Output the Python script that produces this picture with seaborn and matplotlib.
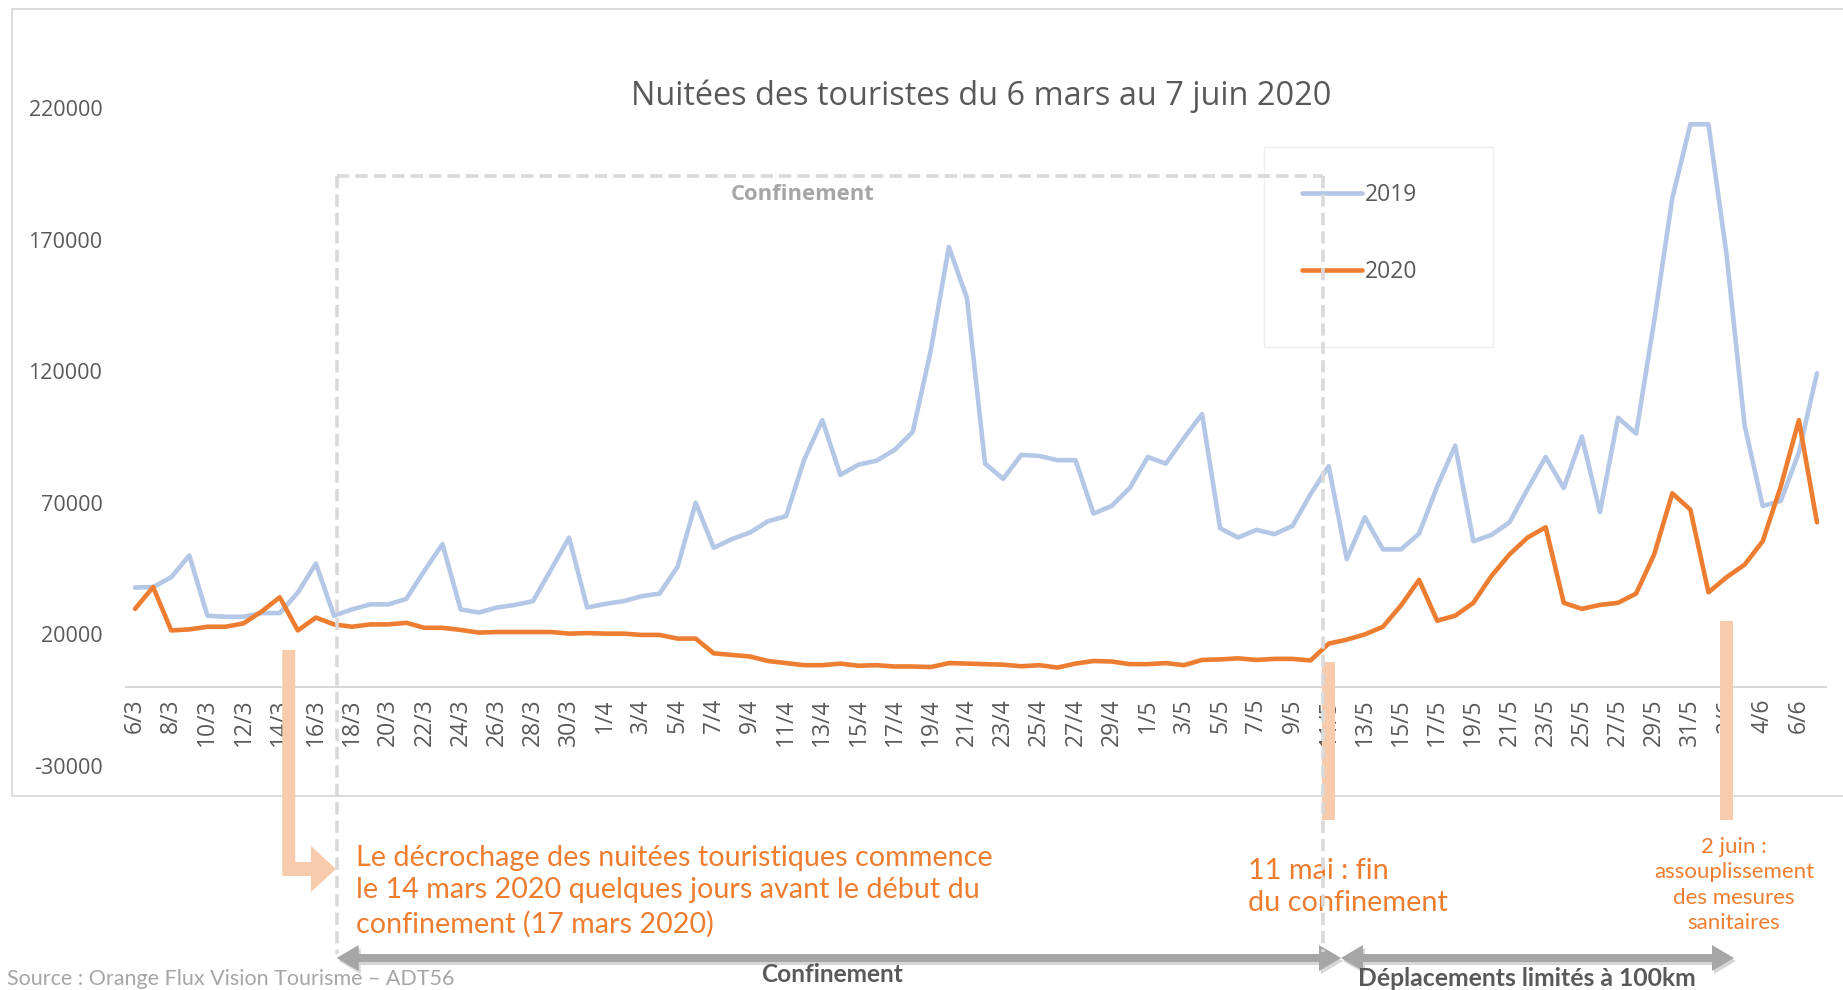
import numpy as np
import pandas as pd
import matplotlib
matplotlib.use("Agg")
import matplotlib.pyplot as plt
from matplotlib.patches import Rectangle, Polygon
from matplotlib.lines import Line2D
import seaborn as sns

# --- data -----------------------------------------------------------------
dates = pd.date_range("2020-03-06", "2020-06-07", freq="D")
day_labels = [f"{d.day}/{d.month}" for d in dates]

nuitees_2019 = [
    37800, 38000, 41700, 50000, 27100, 26700, 26700, 28100, 28100, 35900,
    46900, 27100, 29500, 31400, 31400, 33500, 44200, 54300, 29500, 28300,
    30200, 31200, 32600, 44600, 56800, 30200, 31600, 32600, 34500, 35500,
    45700, 70000, 52900, 56200, 58700, 63000, 64900, 86400, 101400, 80600,
    84500, 86000, 90100, 96900, 127900, 167200, 147700, 84900, 79100, 88200,
    87800, 86200, 86200, 65900, 68800, 75600, 87400, 84900, 94600, 103700,
    60300, 56800, 59700, 58100, 61200, 73300, 83900, 48600, 64500, 52300,
    52300, 58300, 76200, 91700, 55400, 57800, 62600, 75200, 87400, 75600,
    95200, 66500, 102300, 96300, 139100, 185700, 213800, 213800, 164300, 99400,
    68800, 70700, 89100, 119200,
]
nuitees_2020 = [
    29700, 38000, 21500, 21900, 22900, 22900, 24200, 28700, 34100, 21500,
    26400, 23800, 22900, 23800, 23800, 24400, 22500, 22500, 21700, 20700,
    20900, 20900, 20900, 20900, 20300, 20500, 20300, 20300, 19800, 19800,
    18400, 18400, 12800, 12200, 11600, 9900, 9100, 8300, 8300, 8900,
    8100, 8300, 7800, 7800, 7600, 9100, 8900, 8700, 8500, 7900,
    8300, 7400, 8900, 9900, 9700, 8700, 8700, 9100, 8300, 10300,
    10500, 10900, 10300, 10700, 10700, 10100, 16500, 18000, 20000, 22900,
    31000, 40700, 25200, 27100, 32000, 42200, 50400, 56800, 60700, 32000,
    29700, 31200, 32000, 35500, 50400, 73600, 67400, 36000, 41700, 46500,
    55400, 76200, 101400, 62600,
]
y_ticks = [-30000, 20000, 70000, 120000, 170000, 220000]

title = "Nuitées des touristes du 6 mars au 7 juin 2020"
colors = {"2019": "#B4C7E7", "2020": "#ED7D31"}
orange = "#ED7D31"
peach = "#F8CBAD"

df = pd.DataFrame({
    "jour": list(range(len(dates))) * 2,
    "nuitees": nuitees_2019 + nuitees_2020,
    "annee": ["2019"] * len(dates) + ["2020"] * len(dates),
})

# --- figure ---------------------------------------------------------------
sns.set_theme(style="white")
plt.rcParams["font.family"] = ["Open Sans", "DejaVu Sans"]

W, H = 1843, 990
fig = plt.figure(figsize=(W / 100, H / 100), dpi=100)
ax = fig.add_axes([126 / W, 1 - 766 / H, 1700 / W, 658 / H])

sns.lineplot(data=df, x="jour", y="nuitees", hue="annee", palette=colors,
             linewidth=3.3, legend=False, ax=ax)

# axis crossing at 0 (set before ticks: set_position resets them)
for s in ["top", "right", "left"]:
    ax.spines[s].set_visible(False)
ax.spines["bottom"].set_position(("data", 0))
ax.spines["bottom"].set_color("#D9D9D9")
ax.spines["bottom"].set_linewidth(1.5)

ax.set_xlim(-0.5, len(dates) - 0.5)
ax.set_ylim(y_ticks[0], y_ticks[-1])
ax.set_yticks(y_ticks)
ax.set_yticklabels([str(v) for v in y_ticks])
ax.set_xticks(range(0, len(dates), 2))
ax.set_xticklabels(day_labels[::2])
ax.set_xlabel("")
ax.set_ylabel("")
ax.tick_params(axis="x", length=0, pad=8, labelsize=16.5, labelcolor="#595959",
               labelrotation=90)
ax.tick_params(axis="y", length=0, pad=17, labelsize=15.5, labelcolor="#595959")

# legend
handles = [Line2D([], [], color=colors[k], lw=3.3) for k in colors]
ax.legend(handles, list(colors), loc="upper left",
          bbox_to_anchor=(1302 / W, 1 - 183 / H), bbox_transform=fig.transFigure,
          frameon=False, borderpad=0, borderaxespad=0, handlelength=2.6,
          handletextpad=0.15, labelspacing=2.3, fontsize=16.5, labelcolor="#595959")


def fx(x):
    return x / W


def fy(y):
    return 1 - y / H


def xpix(i):
    return ax.transData.transform((i, 0))[0]


def poly(points, color, z=3):
    p = Polygon([(fx(x), fy(y)) for x, y in points], closed=True,
                facecolor=color, edgecolor="none", transform=fig.transFigure, zorder=z)
    fig.add_artist(p)


def vline(x, y0, y1, **kw):
    fig.add_artist(Line2D([fx(x), fx(x)], [fy(y0), fy(y1)],
                          transform=fig.transFigure, **kw))


# chart frame
fig.add_artist(Rectangle((fx(12), fy(796)), fx(W + 20 - 12), (796 - 9) / H,
                         fill=False, edgecolor="#D9D9D9", lw=1.3,
                         transform=fig.transFigure, zorder=0.5))
# legend box
fig.add_artist(Rectangle((fx(1264), fy(347)), fx(1493 - 1264), (347 - 147) / H,
                         fill=False, edgecolor="#EFEFEF", lw=1,
                         transform=fig.transFigure, zorder=0.5))

fig.text(fx(981), fy(96), title, ha="center", va="center", fontsize=23.4,
         color="#595959")

# confinement dashed box
dash = dict(color="#D9D9D9", lw=2.6, linestyle=(0, (3.4, 1.7)), zorder=4)
xl, xr = xpix(11.15), xpix(65.7)
vline(xl, 176, 954, **dash)
vline(xr, 176, 952, **dash)
fig.add_artist(Line2D([fx(xl), fx(xr)], [fy(176), fy(176)],
                      transform=fig.transFigure, **dash))
fig.text(fx(803), fy(194), "Confinement", ha="center", va="center",
         fontsize=15.8, fontweight="bold", color="#A6A6A6")

# peach markers
xb = xpix(8.5)
poly([(xb - 6.5, 650), (xb + 6.5, 650), (xb + 6.5, 862), (311, 862), (311, 846),
      (336, 869), (311, 892), (311, 876), (xb - 6.5, 876)], peach)
for idx, top in [(66, 662), (88, 621)]:
    xc = xpix(idx)
    poly([(xc - 6.5, top), (xc + 6.5, top), (xc + 6.5, 820), (xc - 6.5, 820)], peach)

# annotations
ann = ["Lato", "DejaVu Sans"]
fig.text(fx(356), fy(891),
         "Le décrochage des nuitées touristiques commence\n"
         "le 14 mars 2020 quelques jours avant le début du\n"
         "confinement (17 mars 2020)",
         ha="left", va="center", fontsize=20.7, color=orange, family=ann,
         linespacing=1.32)
fig.text(fx(1248), fy(887), "11 mai : fin\ndu confinement", ha="left",
         va="center", fontsize=20.8, color=orange, family=ann, linespacing=1.32)
fig.text(fx(1734), fy(885), "2 juin :\nassouplissement\ndes mesures\nsanitaires",
         ha="center", va="center", fontsize=16, color=orange, family=ann,
         linespacing=1.35, multialignment="center")


def double_arrow(x0, x1, yc, color, t=4, L=22, h=13):
    pts = [(x0, yc), (x0 + L, yc - h), (x0 + L, yc - t), (x1 - L, yc - t),
           (x1 - L, yc - h), (x1, yc), (x1 - L, yc + h), (x1 - L, yc + t),
           (x0 + L, yc + t), (x0 + L, yc + h)]
    poly([(x + 2, y + 3) for x, y in pts], "#D6D6D6", z=2.9)
    poly(pts, color)


double_arrow(xl, 1341, 958, "#A6A6A6")
double_arrow(1341, 1734, 958, "#A6A6A6")
fig.text(fx(832), fy(975), "Confinement", ha="center", va="center",
         fontsize=17.6, fontweight="bold", color="#595959", family=ann)
fig.text(fx(1527), fy(978), "Déplacements limités à 100km", ha="center",
         va="center", fontsize=17.8, fontweight="bold", color="#595959", family=ann)
fig.text(fx(7), fy(979), "Source : Orange Flux Vision Tourisme – ADT56",
         ha="left", va="center", fontsize=15.5, color="#A6A6A6", family=ann)

fig.savefig("out.png", dpi=100)
